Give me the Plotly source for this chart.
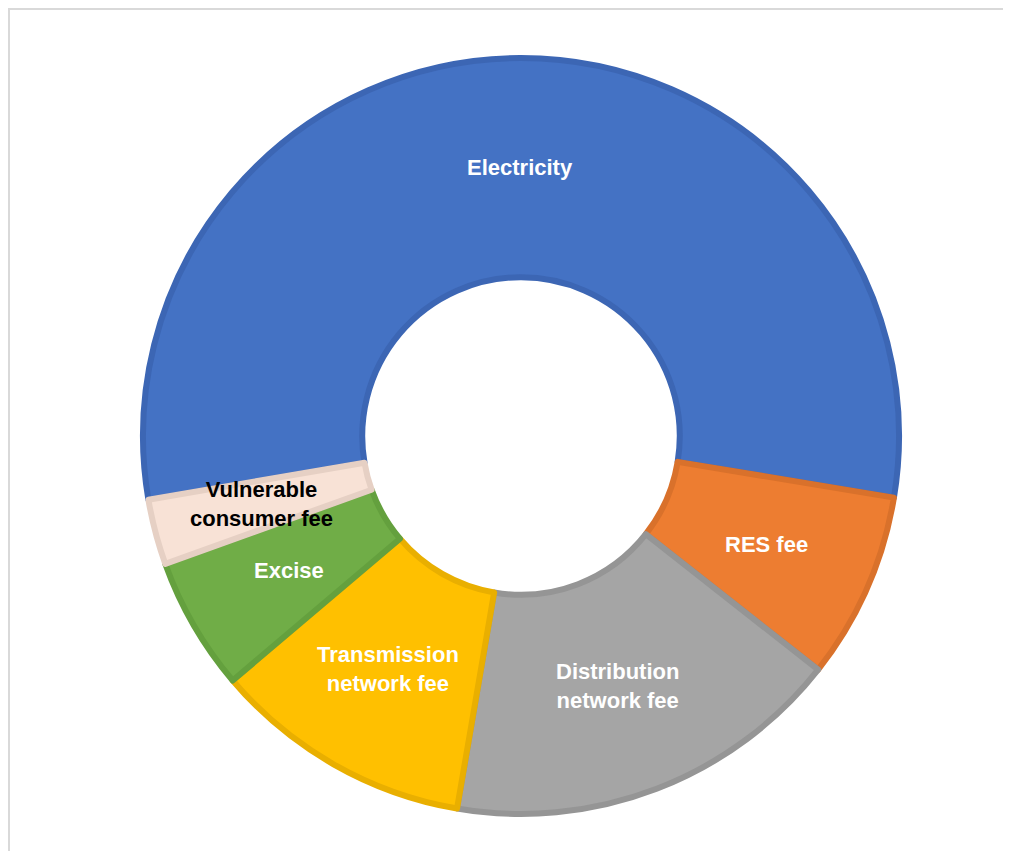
import math
import plotly.graph_objects as go

# ---- data ----
labels = ["Electricity", "RES fee", "Distribution<br>network fee",
          "Transmission<br>network fee", "Excise", "Vulnerable<br>consumer fee"]
values = [55.3, 8.0, 17.1, 11.1, 5.7, 2.8]
fill_colors = ["#4472C4", "#ED7D31", "#A5A5A5", "#FFC000", "#70AD47", "#F8E2D6"]
line_colors = ["#3C66B4", "#D9712B", "#959595", "#E9AF00", "#64A03E", "#E6D0C4"]
text_colors = ["white", "white", "white", "white", "white", "black"]

W, H = 1011, 851
OFF = 8                    # page offset of the figure inside the window
CX, CY = 521 - OFF, 436 - OFF   # pixel centre within the figure
R_OUT = 378
HOLE = 0.42
ROT = 260.3                # start angle of first slice, clockwise from 12 o'clock

fig = go.Figure()
fig.add_trace(go.Pie(
    labels=labels, values=values, sort=False, direction="clockwise",
    rotation=ROT, hole=HOLE, textinfo="none", hoverinfo="label+percent",
    marker=dict(colors=fill_colors, line=dict(color=line_colors, width=6)),
    domain=dict(x=[(CX - R_OUT) / W, (CX + R_OUT) / W],
                y=[(H - CY - R_OUT) / H, (H - CY + R_OUT) / H]),
    showlegend=False,
))

# labels at the middle of the ring, mid-angle of each slice (derived from values)
total = sum(values)
r_lab = R_OUT * (1 + HOLE) / 2
cum = 0.0
annotations = []
for lab, v, tc in zip(labels, values, text_colors):
    mid = ROT + (cum + v / 2) / total * 360
    cum += v
    a = math.radians(mid)
    px = CX + r_lab * math.sin(a)
    py = CY - r_lab * math.cos(a)
    annotations.append(dict(
        x=px / W, y=(H - py) / H, xref="paper", yref="paper", text=lab,
        showarrow=False, xanchor="center", yanchor="middle",
        font=dict(family="Liberation Sans, Arial, sans-serif", size=22,
                  color=tc, weight="bold")))

fig.update_layout(
    width=W, height=H, margin=dict(l=0, r=0, t=0, b=0),
    paper_bgcolor="white", plot_bgcolor="white",
    annotations=annotations,
    shapes=[dict(type="rect", xref="paper", yref="paper",
                 x0=1 / W, x1=1.02, y0=-0.02, y1=(H - 1) / H,
                 line=dict(color="#D9D9D9", width=2), layer="below")],
)

fig.write_html("out.html")
